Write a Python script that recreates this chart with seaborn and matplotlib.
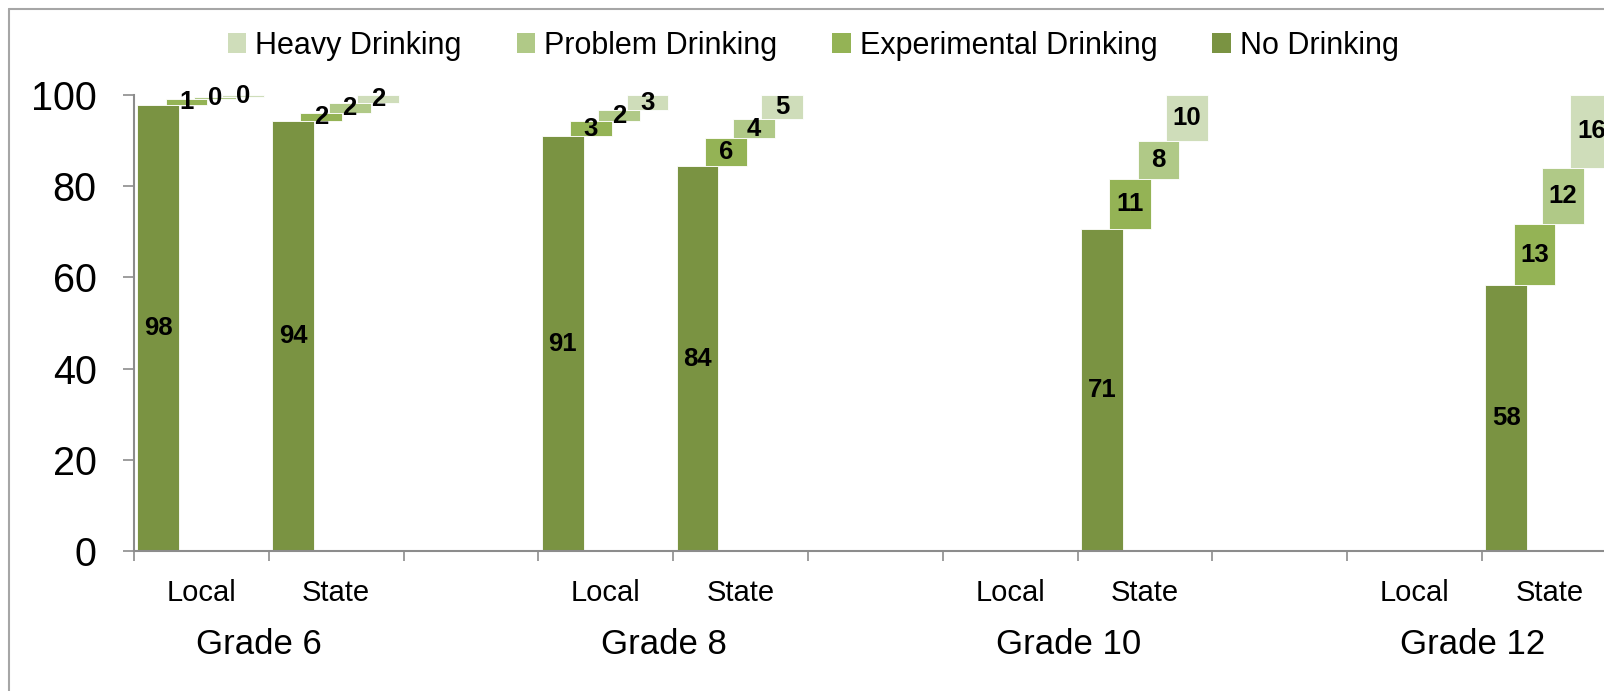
import matplotlib
matplotlib.use('Agg')
import matplotlib.pyplot as plt
from matplotlib.patches import Patch
from matplotlib.lines import Line2D
import matplotlib.transforms as mtransforms
import seaborn as sns
import pandas as pd
import numpy as np

# bar slots: Local/State per grade, with an empty slot between grades
grades = ['Grade 6', 'Grade 8', 'Grade 10', 'Grade 12']
regions = ['Local', 'State']
series = ['No Drinking', 'Experimental Drinking', 'Problem Drinking', 'Heavy Drinking']
nan = np.nan

# one entry per bar: G6 Local, G6 State, G8 Local, G8 State, G10 Local, G10 State, G12 Local, G12 State
no_drinking = [97.7, 94.3, 91.0, 84.4, nan, 70.6, nan, 58.3]
experimental = [1.4, 1.7, 3.3, 6.2, nan, 11.0, nan, 13.4]
problem = [0.4, 2.2, 2.4, 4.1, nan, 8.3, nan, 12.3]
heavy = [0.4, 1.8, 3.3, 5.3, nan, 10.1, nan, 16.0]

colors = ['#7A9342', '#94B355', '#B0C987', '#CFDDBA']

sns.set_style('white')
plt.rcParams['font.family'] = ['Liberation Sans', 'DejaVu Sans']
plt.rcParams['text.color'] = 'black'

W, H = 1604, 691
fig = plt.figure(figsize=(W / 100, H / 100), dpi=100)
slot_px = 134.8
ax = fig.add_axes([134 / W, (H - 551) / H, 11 * slot_px / W, (551 - 95) / H])

# slot index of each bar (gap slot after each grade)
slots = []
for g in range(len(grades)):
    for r in range(len(regions)):
        slots.append(g * 3 + r)
slots = np.array(slots)

values = [no_drinking, experimental, problem, heavy]
offsets = [-0.32, -0.11, 0.10, 0.31]
bar_w = 0.31

bottoms = np.zeros(len(slots))
for i, name in enumerate(series):
    vals = np.array(values[i])
    df = pd.DataFrame({'pos': slots + 0.5 + offsets[i], 'value': vals, 'bottom': bottoms.copy()})
    df = df.dropna().sort_values('pos')
    sns.barplot(data=df, x='pos', y='value', native_scale=True, width=bar_w,
                bottom=df['bottom'].values, color=colors[i], errorbar=None,
                edgecolor='white', linewidth=0.6, saturation=1, ax=ax)
    bottoms = bottoms + np.nan_to_num(vals)

for cont in ax.containers:
    ax.bar_label(cont, fmt='{:.0f}', label_type='center', fontsize=18.5,
                 fontweight='bold', color='black')

ax.set_xlim(0, 11)
ax.set_ylim(0, 100)
ax.set_xlabel('')
ax.set_ylabel('')

ax.set_xticks(np.arange(0, 12))
ax.set_xticklabels([])
centre_labels = []
for s in range(11):
    centre_labels.append(regions[s % 3] if s % 3 < 2 else '')
ax.set_xticks(np.arange(11) + 0.5, minor=True)
ax.set_xticklabels(centre_labels, minor=True)
ax.tick_params(axis='x', which='major', direction='out', length=7.5, width=1.2,
               color='#8C8C8C', bottom=True)
ax.tick_params(axis='x', which='minor', length=0, pad=20, labelsize=21,
               labelcolor='black')

ax.set_yticks(np.arange(0, 101, 20))
ax.tick_params(axis='y', direction='out', length=8, width=1.2, color='#8C8C8C',
               pad=19, labelsize=28.5, left=True, labelcolor='black')

for side in ['top', 'right']:
    ax.spines[side].set_visible(False)
for side in ['left', 'bottom']:
    ax.spines[side].set_color('#8C8C8C')
    ax.spines[side].set_linewidth(1.5)
ax.grid(False)

trans = mtransforms.blended_transform_factory(ax.transData, ax.transAxes)
for g, grade in enumerate(grades):
    ax.text(g * 3 + 1 - 0.07, -0.206, grade, transform=trans, ha='center',
            va='center', fontsize=25, color='black')

handles = [Patch(facecolor=colors[i], edgecolor='none') for i in [3, 2, 1, 0]]
fig.legend(handles, [series[i] for i in [3, 2, 1, 0]], loc='center',
           bbox_to_anchor=(0.507, 0.934), ncol=4, frameon=False, fontsize=22,
           handlelength=0.6, handleheight=0.6, handletextpad=0.3, columnspacing=1.8,
           labelcolor='black')

# chart frame (clipped on right and bottom)
fx = 9 / W
fy = 1 - 9 / H
fig.add_artist(Line2D([fx, fx], [0, fy], transform=fig.transFigure, color='#A6A6A6', lw=1.5))
fig.add_artist(Line2D([fx, 1], [fy, fy], transform=fig.transFigure, color='#A6A6A6', lw=1.5))

fig.savefig('out.png', dpi=100)
